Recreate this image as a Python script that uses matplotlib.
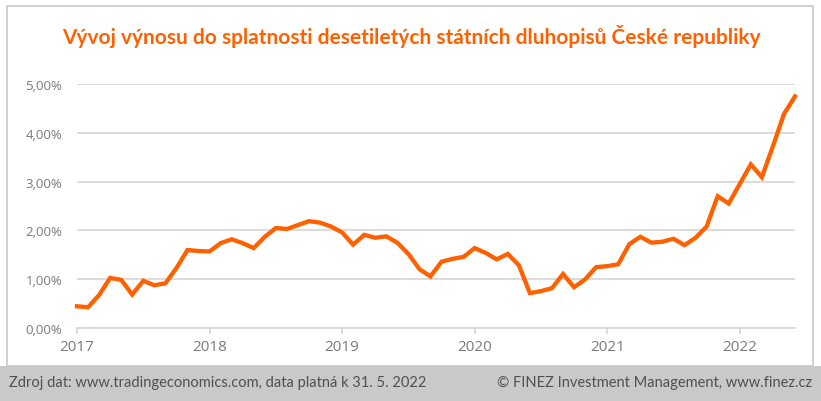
import matplotlib
matplotlib.use("Agg")
import matplotlib.pyplot as plt
from matplotlib.patches import Rectangle
from matplotlib.ticker import FuncFormatter

# Settings
plt.rcParams['font.family'] = ['Lato', 'DejaVu Sans']

# monthly 10Y CZ government bond yield, Jan 2017 .. Jun 2022 (in %)
yields = [
    0.45, 0.43, 0.68, 1.03, 0.99, 0.69, 0.97, 0.88, 0.92, 1.23, 1.60, 1.58,
    1.57, 1.74, 1.82, 1.74, 1.64, 1.87, 2.05, 2.03, 2.11, 2.19, 2.16, 2.08,
    1.96, 1.71, 1.91, 1.85, 1.88, 1.75, 1.52, 1.21, 1.06, 1.36, 1.42, 1.46,
    1.64, 1.54, 1.41, 1.52, 1.29, 0.72, 0.76, 0.82, 1.11, 0.84, 1.00, 1.25,
    1.27, 1.31, 1.72, 1.87, 1.75, 1.77, 1.83, 1.70, 1.85, 2.08, 2.70, 2.55,
    2.95, 3.35, 3.09, 3.72, 4.38, 4.74,
]
months = list(range(len(yields)))
year_labels = ['2017', '2018', '2019', '2020', '2021', '2022']
year_pos = [12 * i for i in range(len(year_labels))]
y_ticks = [0, 1, 2, 3, 4, 5]

title = 'Vývoj výnosu do splatnosti desetiletých státních dluhopisů České republiky'
source = 'Zdroj dat: www.tradingeconomics.com, data platná k 31. 5. 2022'
credit = '© FINEZ Investment Management, www.finez.cz'

orange = '#ff6000'
grid_c = '#d6d6d6'
label_c = '#7a7a7a'

W, H = 821, 402
fig = plt.figure(figsize=(W / 100, H / 100), dpi=100)
fig.patch.set_facecolor('white')

# footer band + chart border
fig.patches.append(Rectangle((0, 0), 1, 1 - 367 / H, transform=fig.transFigure,
                             facecolor='#c9c9c9', edgecolor='none', zorder=0))
fig.patches.append(Rectangle((7 / W, 1 - 367 / H), 806 / W, 360 / H, transform=fig.transFigure,
                             facecolor='white', edgecolor='#c8c8c8', linewidth=1.2, zorder=1))

ax = fig.add_axes([77 / W, 1 - 329.3 / H, 718 / W, 244.6 / H])
ax.set_zorder(5)
ax.set_facecolor('none')
ax.plot(months, yields, color=orange, linewidth=3.1, solid_joinstyle='miter',
        clip_on=False, zorder=3)

ax.set_xlim(0, 65)
ax.set_ylim(0, 5)
ax.set_yticks(y_ticks)
ax.yaxis.set_major_formatter(FuncFormatter(lambda v, p: f'{v:.2f}%'.replace('.', ',')))
ax.set_xticks(year_pos)
ax.set_xticklabels(year_labels)

ax.grid(axis='y', color=grid_c, linewidth=1.2, zorder=0)
for s in ['top', 'right', 'left']:
    ax.spines[s].set_visible(False)
ax.spines['bottom'].set_color(grid_c)
ax.spines['bottom'].set_linewidth(1.2)
ax.tick_params(axis='y', length=0, pad=10.5, labelsize=9.5, labelcolor=label_c,
               labelfontfamily='Open Sans')
ax.tick_params(axis='x', length=4, width=1.2, color=grid_c, pad=4,
               labelsize=11, labelcolor=label_c, labelfontfamily='Open Sans')

fig.text(411 / W, 1 - 37 / H, title, ha='center', va='center', color=orange,
         fontsize=15, fontweight='bold', zorder=6)
fig.text(9 / W, 1 - 383 / H, source, ha='left', va='center', color='#505050',
         fontsize=10.5, zorder=6)
fig.text(812 / W, 1 - 383 / H, credit, ha='right', va='center', color='#505050',
         fontsize=10.5, zorder=6)

fig.savefig('out.png', dpi=100)
